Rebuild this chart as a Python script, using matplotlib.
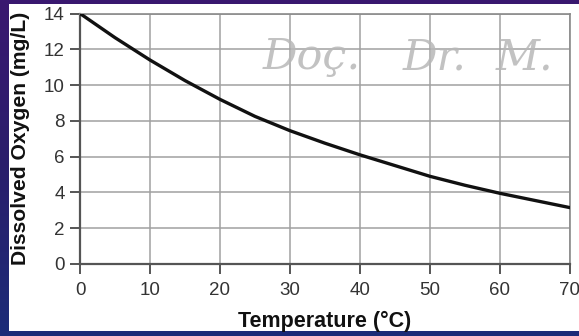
import matplotlib
matplotlib.use("Agg")
import matplotlib.pyplot as plt
import numpy as np
from matplotlib.patches import Rectangle
from matplotlib.colors import LinearSegmentedColormap

temperature = [0, 5, 10, 15, 20, 25, 30, 35, 40, 45, 50, 55, 60, 65, 70]
oxygen = [14.0, 12.65, 11.4, 10.25, 9.2, 8.25, 7.45, 6.75, 6.1, 5.5, 4.9, 4.4, 3.95, 3.55, 3.15]
xticks = [0, 10, 20, 30, 40, 50, 60, 70]
yticks = [0, 2, 4, 6, 8, 10, 12, 14]
xlabel = "Temperature (°C)"
ylabel = "Dissolved Oxygen (mg/L)"
watermark_words = ["Doç.", "Dr.", "M."]

W, H = 579, 336
fig = plt.figure(figsize=(W / 100, H / 100), dpi=100)

# background gradient (purple top-left -> navy bottom)
bg = fig.add_axes([0, 0, 1, 1])
bg.set_axis_off()
cmap = LinearSegmentedColormap.from_list("bg", ["#3a1870", "#2a1e6c", "#1b2c78"])
grad = np.linspace(0, 1, 256).reshape(-1, 1)
bg.imshow(grad, aspect="auto", cmap=cmap, extent=[0, 1, 0, 1], origin="upper")
bg.add_patch(Rectangle((8.5 / W, 1 - 331 / H), (W - 8.5) / W, (331 - 4) / H,
                       transform=bg.transAxes, facecolor="white", edgecolor="none"))
bg.set_xlim(0, 1)
bg.set_ylim(0, 1)

ax = fig.add_axes([80 / W, 1 - 264 / H, (570 - 80) / W, (264 - 13.5) / H])
ax.set_facecolor("none")
ax.plot(temperature, oxygen, color="#111111", linewidth=2.4, solid_capstyle="round", zorder=3)
ax.set_xlim(0, 70)
ax.set_ylim(0, 14)
ax.set_xticks(xticks)
ax.set_yticks(yticks)
ax.grid(True, color="#a0a0a0", linewidth=1.1)
ax.set_axisbelow(True)
for s in ax.spines.values():
    s.set_color("#8a8a8a")
    s.set_linewidth(1.2)
for s in ["left", "bottom"]:
    ax.spines[s].set_color("#555555")
    ax.spines[s].set_linewidth(1.6)
ax.tick_params(axis="both", direction="out", length=7, width=1.4, color="#555555",
               labelsize=13.5, labelcolor="#333333")
ax.tick_params(axis="x", pad=6)
ax.tick_params(axis="y", pad=4)
for lab in ax.get_xticklabels() + ax.get_yticklabels():
    lab.set_family("Liberation Sans")

fig.text(325 / W, 1 - 321 / H, xlabel, fontsize=15.5, fontweight="bold", family="Liberation Sans",
         color="#111111", ha="center", va="center")
fig.text(21 / W, 1 - 138 / H, ylabel, fontsize=15.2, fontweight="bold", family="Liberation Sans",
         color="#111111", ha="center", va="center", rotation=90)

for word, xpx in zip(watermark_words, [263, 403, 496]):
    fig.text(xpx / W, 1 - 69 / H, word, fontsize=31, style="italic", family="DejaVu Serif",
             color="#b8b8b8", alpha=0.85, ha="left", va="baseline")

fig.savefig("out.png", dpi=100)
